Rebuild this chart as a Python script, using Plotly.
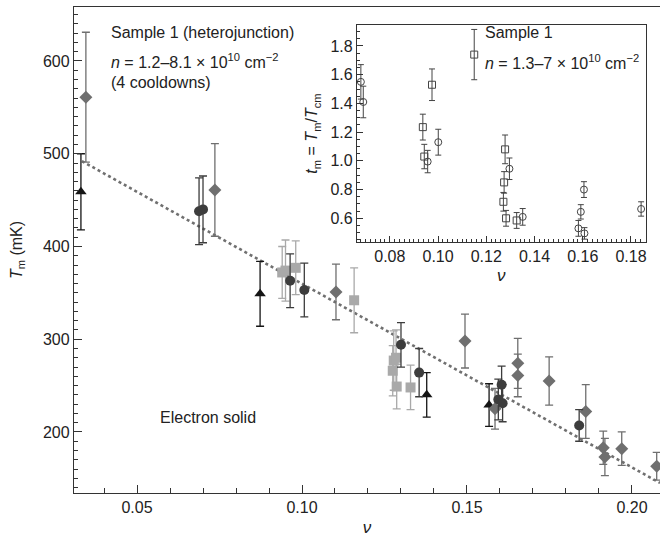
import plotly.graph_objects as go

# ---------------- main panel data ----------------
nu_tri = [0.0330, 0.0873, 0.1378, 0.1567]
T_tri = [459, 349, 240, 229]
err_tri = [41, 35, 24, 23]

nu_circ = [0.0688, 0.0700, 0.0964, 0.1007, 0.1300, 0.1355, 0.1595, 0.1605, 0.1608, 0.1840]
T_circ = [438, 440, 363, 353, 294, 264, 235, 251, 231, 207]
err_circ = [36, 36, 29, 29, 24, 26, 22, 20, 20, 17]

nu_dia = [0.0345, 0.0736, 0.1103, 0.1494, 0.1585, 0.1654, 0.1654, 0.1749, 0.1860,
          0.1913, 0.1918, 0.1969, 0.2075]
T_dia = [561, 461, 351, 298, 225, 274, 261, 255, 222, 183, 173, 182, 163]
err_dia = [70, 50, 30, 29, 22, 27, 23, 26, 29, 18, 20, 18, 15]

nu_sq = [0.0940, 0.0950, 0.0981, 0.1158, 0.1278, 0.1285, 0.1275, 0.1287, 0.1329]
T_sq = [372, 374, 377, 342, 277, 280, 266, 249, 248]
err_sq = [28, 33, 29, 35, 32, 30, 27, 24, 24]

fit_nu = [0.0333, 0.2085]
fit_T = [492, 145]

# ---------------- inset data ----------------
in_sq_nu = [0.0975, 0.0937, 0.0943, 0.1278, 0.1274, 0.1271, 0.1282, 0.1326]
in_sq_t = [1.53, 1.235, 1.03, 1.08, 0.85, 0.715, 0.60, 0.585]
in_sq_err = [0.11, 0.09, 0.085, 0.10, 0.075, 0.065, 0.055, 0.055]

in_circ_nu = [0.0680, 0.0690, 0.0957, 0.1001, 0.1296, 0.1351, 0.1582, 0.1592, 0.1605, 0.1607, 0.1842]
in_circ_t = [1.55, 1.41, 0.995, 1.13, 0.945, 0.61, 0.53, 0.645, 0.80, 0.495, 0.665]
in_circ_err = [0.12, 0.11, 0.078, 0.09, 0.075, 0.058, 0.055, 0.05, 0.055, 0.04, 0.05]

legend_nu = [0.1150]
legend_t = [1.74]
legend_err = [0.175]

main_xticks = [0.05, 0.10, 0.15, 0.20]
main_yticks = [200, 300, 400, 500, 600]
inset_xticks = [0.08, 0.10, 0.12, 0.14, 0.16, 0.18]
inset_yticks = [0.6, 0.8, 1.0, 1.2, 1.4, 1.6, 1.8]

FONT = "Liberation Sans, Arial, Helvetica, sans-serif"
TXT = "#222222"
C_TRI = "#151515"
C_CIRC = "#3d3d3d"
C_DIA = "#6f6f6f"
C_SQ = "#a9a9a9"
C_IN = "#444444"

fig = go.Figure()

fig.add_trace(go.Scatter(x=fit_nu, y=fit_T, mode="lines",
                         line=dict(color="#707070", width=2.6, dash="dot"),
                         hoverinfo="skip", showlegend=False))


def main_series(x, y, e, color, symbol, size):
    fig.add_trace(go.Scatter(
        x=x, y=y, mode="markers",
        marker=dict(color=color, symbol=symbol, size=size, line=dict(width=0)),
        error_y=dict(type="data", array=e, visible=True, color=color,
                     thickness=1.3, width=4),
        showlegend=False, cliponaxis=False))


main_series(nu_sq, T_sq, err_sq, C_SQ, "square", 10)
main_series(nu_tri, T_tri, err_tri, C_TRI, "triangle-up", 10)
main_series(nu_dia, T_dia, err_dia, C_DIA, "diamond", 10)
main_series(nu_circ, T_circ, err_circ, C_CIRC, "circle", 10)


def inset_series(x, y, e, symbol):
    fig.add_trace(go.Scatter(
        x=x, y=y, mode="markers", xaxis="x2", yaxis="y2",
        marker=dict(color=C_IN, symbol=symbol, size=7,
                    line=dict(color=C_IN, width=1)),
        error_y=dict(type="data", array=e, visible=True, color=C_IN,
                     thickness=1, width=3),
        showlegend=False))


inset_series(in_sq_nu, in_sq_t, in_sq_err, "square-open")
inset_series(in_circ_nu, in_circ_t, in_circ_err, "circle-open")
inset_series(legend_nu, legend_t, legend_err, "square-open")

W, H = 660, 537
L, R, T, B = 74, 0, 7, 44
PW, PH = W - L - R, H - T - B


def px(xp):
    return (xp - L) / PW


def py(yp):
    return (H - B - yp) / PH


AX = "#333333"
fig.update_layout(
    width=W, height=H,
    margin=dict(l=L, r=R, t=T, b=B, autoexpand=False),
    paper_bgcolor="white", plot_bgcolor="white",
    font=dict(family=FONT, size=16, color=TXT),
    xaxis=dict(range=[0.0309, 0.2085], domain=[0, 1], automargin=False,
               showline=True, linecolor=AX, linewidth=1.3, mirror=True,
               ticks="inside", ticklen=8, tickwidth=1.2, tickcolor=AX,
               tickvals=main_xticks, tickformat=".2f",
               minor=dict(dtick=0.01, ticks="inside", ticklen=5, tickwidth=1, tickcolor=AX),
               showgrid=False, zeroline=False,
               tickfont=dict(size=16),
               title=dict(text="<i>ν</i>", font=dict(size=17), standoff=7)),
    yaxis=dict(range=[134.2, 658.2], domain=[0, 1], automargin=False,
               showline=True, linecolor=AX, linewidth=1.3,
               ticks="inside", ticklen=8, tickwidth=1.2, tickcolor=AX,
               tickvals=main_yticks,
               minor=dict(dtick=10, ticks="inside", ticklen=4, tickwidth=1, tickcolor=AX),
               showgrid=False, zeroline=False,
               tickfont=dict(size=16),
               title=dict(text="<i>T</i><sub>m</sub> (mK)", font=dict(size=16), standoff=16)),
    xaxis2=dict(range=[0.0664, 0.1861], domain=[px(357), px(645.7)], anchor="y2",
                automargin=False,
                showline=True, linecolor=AX, linewidth=1.2, mirror=True,
                ticks="inside", ticklen=6, tickwidth=1, tickcolor=AX,
                tickvals=inset_xticks, tickformat=".2f",
                minor=dict(dtick=0.002, ticks="inside", ticklen=3, tickwidth=1, tickcolor=AX),
                showgrid=False, zeroline=False,
                tickfont=dict(size=16),
                title=dict(text="<i>ν</i>", font=dict(size=17), standoff=4)),
    yaxis2=dict(range=[0.435, 1.946], domain=[py(242), py(25)], anchor="x2",
                automargin=False,
                showline=True, linecolor=AX, linewidth=1.2, mirror=True,
                ticks="inside", ticklen=6, tickwidth=1, tickcolor=AX,
                tickvals=inset_yticks, tickformat=".1f",
                minor=dict(dtick=0.05, ticks="inside", ticklen=3, tickwidth=1, tickcolor=AX),
                showgrid=False, zeroline=False,
                tickfont=dict(size=16),
                title=dict(text="<i>t</i><sub>m</sub> = <i>T</i><sub>m</sub>/<i>T</i><sub>cm</sub>",
                           font=dict(size=16), standoff=8)),
)

annots = [
    ("Sample 1 (heterojunction)", 109, 33),
    ("<i>n</i> = 1.2–8.1 × 10<sup>10</sup> cm<sup>−2</sup>", 109, 61),
    ("(4 cooldowns)", 109, 82),
    ("Electron solid", 158, 417),
    ("Sample 1", 483, 33),
    ("<i>n</i> = 1.3–7 × 10<sup>10</sup> cm<sup>−2</sup>", 483, 62),
]
for text, xp, yp in annots:
    fig.add_annotation(text=text, xref="paper", yref="paper", x=px(xp), y=py(yp),
                       xanchor="left", yanchor="middle", showarrow=False,
                       font=dict(size=16, color=TXT, family=FONT))

fig.write_html("out.html", config={"displayModeBar": False},
               post_script="document.body.style.margin='0';document.body.style.overflow='hidden';")
